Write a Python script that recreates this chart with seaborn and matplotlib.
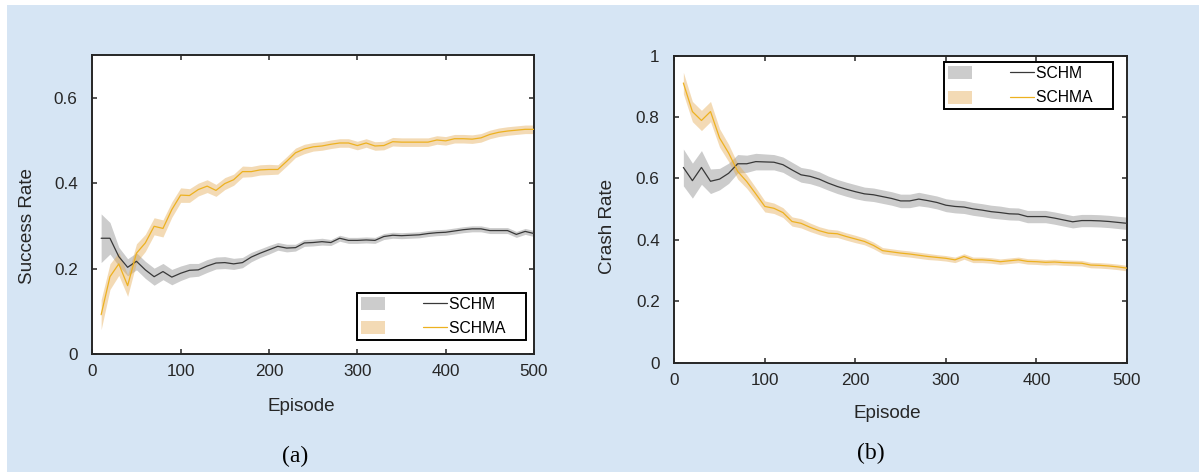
import numpy as np
import pandas as pd
import matplotlib
matplotlib.use("Agg")
import matplotlib.pyplot as plt
from matplotlib.patches import Rectangle, Patch
from matplotlib.lines import Line2D
import seaborn as sns

# ---------------- data ----------------
episodes = list(range(10, 501, 10))

success_schm = [0.271, 0.271, 0.228, 0.203, 0.217, 0.197, 0.181, 0.193, 0.180, 0.189,
                0.196, 0.197, 0.206, 0.213, 0.214, 0.211, 0.214, 0.227, 0.236, 0.244,
                0.252, 0.248, 0.249, 0.260, 0.261, 0.263, 0.261, 0.271, 0.266, 0.266,
                0.267, 0.266, 0.275, 0.278, 0.277, 0.278, 0.279, 0.282, 0.284, 0.285,
                0.288, 0.291, 0.293, 0.293, 0.289, 0.289, 0.289, 0.280, 0.287, 0.282]
success_schm_hw = [0.057, 0.037, 0.022, 0.020, 0.020, 0.020, 0.020, 0.019, 0.018, 0.017,
                   0.016, 0.015, 0.015, 0.014, 0.014, 0.013, 0.012, 0.011, 0.010, 0.010,
                   0.009, 0.009, 0.008, 0.008, 0.008, 0.008, 0.007, 0.007, 0.007, 0.007,
                   0.007, 0.007, 0.007, 0.007, 0.007, 0.007, 0.007, 0.007, 0.007, 0.007,
                   0.007, 0.007, 0.007, 0.007, 0.007, 0.007, 0.007, 0.007, 0.007, 0.007]

success_schma = [0.092, 0.181, 0.211, 0.160, 0.236, 0.260, 0.299, 0.294, 0.338, 0.372,
                 0.371, 0.385, 0.393, 0.383, 0.399, 0.408, 0.427, 0.427, 0.431, 0.432,
                 0.432, 0.451, 0.471, 0.480, 0.485, 0.487, 0.491, 0.494, 0.494, 0.488,
                 0.494, 0.487, 0.488, 0.497, 0.496, 0.496, 0.496, 0.496, 0.501, 0.499,
                 0.504, 0.504, 0.503, 0.506, 0.514, 0.519, 0.522, 0.524, 0.526, 0.526]
success_schma_hw = [0.035, 0.030, 0.027, 0.025, 0.022, 0.020, 0.020, 0.020, 0.018, 0.017,
                    0.016, 0.015, 0.015, 0.014, 0.014, 0.013, 0.013, 0.012, 0.012, 0.012,
                    0.011, 0.011, 0.011, 0.011, 0.010, 0.010, 0.010, 0.010, 0.010, 0.010,
                    0.010, 0.010, 0.010, 0.010, 0.010, 0.010, 0.010, 0.010, 0.010, 0.010,
                    0.010, 0.010, 0.010, 0.010, 0.010, 0.010, 0.010, 0.010, 0.010, 0.010]

crash_schm = [0.636, 0.593, 0.636, 0.591, 0.598, 0.617, 0.648, 0.648, 0.655, 0.654,
              0.653, 0.645, 0.628, 0.612, 0.607, 0.598, 0.585, 0.574, 0.565, 0.557,
              0.550, 0.547, 0.541, 0.535, 0.527, 0.527, 0.533, 0.528, 0.522, 0.513,
              0.509, 0.507, 0.501, 0.497, 0.492, 0.489, 0.485, 0.484, 0.476, 0.476,
              0.476, 0.471, 0.465, 0.459, 0.463, 0.463, 0.462, 0.460, 0.457, 0.454]
crash_schm_hw = [0.060, 0.057, 0.055, 0.040, 0.035, 0.033, 0.030, 0.028, 0.027, 0.026,
                 0.025, 0.025, 0.025, 0.024, 0.024, 0.024, 0.023, 0.023, 0.023, 0.023,
                 0.022, 0.022, 0.022, 0.022, 0.022, 0.022, 0.022, 0.021, 0.021, 0.021,
                 0.021, 0.021, 0.021, 0.021, 0.021, 0.021, 0.020, 0.020, 0.020, 0.020,
                 0.020, 0.020, 0.020, 0.020, 0.020, 0.020, 0.020, 0.020, 0.020, 0.020]

crash_schma = [0.911, 0.818, 0.789, 0.818, 0.732, 0.683, 0.623, 0.590, 0.550, 0.509,
               0.503, 0.489, 0.460, 0.454, 0.441, 0.430, 0.422, 0.420, 0.411, 0.403,
               0.395, 0.382, 0.365, 0.361, 0.357, 0.354, 0.350, 0.346, 0.343, 0.340,
               0.335, 0.346, 0.335, 0.335, 0.333, 0.329, 0.332, 0.335, 0.330, 0.329,
               0.327, 0.328, 0.326, 0.325, 0.324, 0.318, 0.317, 0.315, 0.312, 0.308]
crash_schma_hw = [0.035, 0.033, 0.033, 0.033, 0.030, 0.028, 0.025, 0.022, 0.020, 0.018,
                  0.017, 0.016, 0.015, 0.015, 0.014, 0.013, 0.013, 0.012, 0.012, 0.012,
                  0.011, 0.011, 0.010, 0.010, 0.010, 0.010, 0.010, 0.010, 0.009, 0.009,
                  0.009, 0.009, 0.009, 0.009, 0.009, 0.009, 0.009, 0.009, 0.009, 0.009,
                  0.009, 0.009, 0.009, 0.009, 0.009, 0.009, 0.009, 0.009, 0.009, 0.009]

series_names = ["SCHM", "SCHMA"]
x_ticks = [0, 100, 200, 300, 400, 500]
success_ticks = [0, 0.2, 0.4, 0.6]
success_ticklabels = ["0", "0.2", "0.4", "0.6"]
crash_ticks = [0, 0.2, 0.4, 0.6, 0.8, 1.0]
crash_ticklabels = ["0", "0.2", "0.4", "0.6", "0.8", "1"]

# ---------------- style ----------------
sns.set_theme(style="ticks")
plt.rcParams["font.family"] = ["Liberation Sans", "DejaVu Sans"]

BG = "#d6e5f4"
TXT = "#262626"
LINE_COLORS = {"SCHM": "#383838", "SCHMA": "#EDB120"}
BAND_COLORS = {"SCHM": "#808080", "SCHMA": "#e3a94f"}
BAND_ALPHA = {"SCHM": 0.4, "SCHMA": 0.42}

fig = plt.figure(figsize=(11.99, 4.72), dpi=100)
fig.patch.set_facecolor("white")
fig.patches.append(Rectangle((7 / 1199, 0), 1, (472 - 5) / 472, transform=fig.transFigure,
                             facecolor=BG, edgecolor="none", zorder=-10))

ax1 = fig.add_axes([92.3 / 1199, (472 - 354) / 472, 441.7 / 1199, 299 / 472])
ax2 = fig.add_axes([674.3 / 1199, (472 - 362.7) / 472, 452.7 / 1199, 307 / 472])


def draw(ax, schm, schm_hw, schma, schma_hw):
    df = pd.DataFrame({"Episode": episodes * 2,
                       "value": schm + schma,
                       "hw": schm_hw + schma_hw,
                       "series": ["SCHM"] * len(episodes) + ["SCHMA"] * len(episodes)})
    for name in series_names:
        d = df[df["series"] == name]
        ax.fill_between(d["Episode"], d["value"] - d["hw"], d["value"] + d["hw"],
                        color=BAND_COLORS[name], alpha=BAND_ALPHA[name], linewidth=0, zorder=1)
    sns.lineplot(data=df, x="Episode", y="value", hue="series", palette=LINE_COLORS,
                 linewidth=0.9, ax=ax, legend=False, zorder=3)


draw(ax1, success_schm, success_schm_hw, success_schma, success_schma_hw)
draw(ax2, crash_schm, crash_schm_hw, crash_schma, crash_schma_hw)

for ax in (ax1, ax2):
    ax.set_facecolor("white")
    ax.set_xlim(0, 500)
    ax.set_xticks(x_ticks)
    ax.set_xticklabels([str(t) for t in x_ticks])
    ax.tick_params(axis="both", direction="in", length=3.5, width=1.1, colors=TXT,
                   labelsize=12.3, top=True, right=True, labelcolor=TXT)
    ax.tick_params(axis="x", pad=7.5)
    ax.tick_params(axis="y", pad=10.5)
    for s in ax.spines.values():
        s.set_visible(True)
        s.set_color(TXT)
        s.set_linewidth(1.4)

ax1.set_ylim(0, 0.7)
ax1.set_yticks(success_ticks)
ax1.set_yticklabels(success_ticklabels)
ax2.set_ylim(0, 1.0)
ax2.set_yticks(crash_ticks)
ax2.set_yticklabels(crash_ticklabels)

LABEL_FS = 13.6
ax1.set_xlabel("Episode", fontsize=LABEL_FS, color=TXT, va="center")
ax1.set_ylabel("Success Rate", fontsize=LABEL_FS, color=TXT, va="center")
ax1.xaxis.set_label_coords(0.4725, -0.177)
ax1.yaxis.set_label_coords(-0.1456, 0.428)
ax2.set_xlabel("Episode", fontsize=LABEL_FS, color=TXT, va="center")
ax2.set_ylabel("Crash Rate", fontsize=LABEL_FS, color=TXT, va="center")
ax2.xaxis.set_label_coords(0.471, -0.167)
ax2.yaxis.set_label_coords(-0.1465, 0.445)


def add_legend(ax, anchor):
    handles = [Patch(facecolor=BAND_COLORS[n], alpha=BAND_ALPHA[n], edgecolor="none")
               for n in series_names]
    handles += [Line2D([], [], color=LINE_COLORS[n], linewidth=0.9) for n in series_names]
    labels = ["", "", "SCHM    ", "SCHMA    "]
    leg = ax.legend(handles, labels, ncol=2, loc="upper left", bbox_to_anchor=anchor,
                    fontsize=11.3, handlelength=1.53, handleheight=0.9, handletextpad=0.13,
                    columnspacing=2.3, labelspacing=0.6, borderpad=0.25, borderaxespad=0,
                    frameon=True, fancybox=False, framealpha=1, edgecolor="black")
    leg.get_frame().set_linewidth(1.4)
    for t in leg.get_texts():
        t.set_color("black")
    leg.set_zorder(5)


add_legend(ax1, (0.599, 0.204))
add_legend(ax2, (0.596, 0.979))

fig.text(295 / 1199, 1 - 456.7 / 472, "(a)", ha="center", va="center", fontsize=17,
         family=["Liberation Serif", "DejaVu Serif"], color="black")
fig.text(871 / 1199, 1 - 453 / 472, "(b)", ha="center", va="center", fontsize=17,
         family=["Liberation Serif", "DejaVu Serif"], color="black")

fig.savefig("out.png", dpi=100, facecolor=fig.get_facecolor())
